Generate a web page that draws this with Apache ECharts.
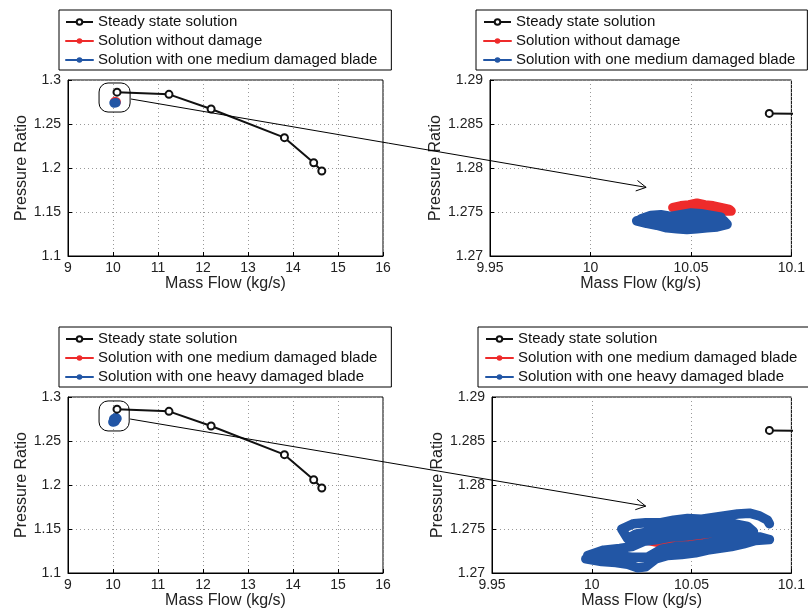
<!DOCTYPE html>
<html>
<head>
<meta charset="utf-8">
<script src="https://cdn.jsdelivr.net/npm/echarts@6/dist/echarts.min.js"></script>
<style>
    html, body { margin: 0; padding: 0; background: #fff; }
    #main { width: 808px; height: 614px; }
</style>
</head>
<body>
<div id="main"></div>
<script>
// 稳态解 (左图全线, 右图只剩第一个点)
let steadyX = [10.089, 11.244, 12.18, 13.81, 14.46, 14.64];
let steadyY = [1.2862, 1.2837, 1.2670, 1.2345, 1.2060, 1.1966];

// 无损伤 (红)
let noDamage = [
    [10.041, 1.2755], [10.045, 1.2757], [10.049, 1.2758], [10.053, 1.2760], [10.057, 1.2758],
    [10.061, 1.2757], [10.065, 1.2755], [10.069, 1.2753], [10.070, 1.2751], [10.066, 1.2751],
    [10.060, 1.2752], [10.054, 1.2753], [10.048, 1.2753], [10.043, 1.2752]
];

// 一片叶片中度损伤
let mediumDamage = [
    [10.023, 1.2740], [10.028, 1.2737], [10.033, 1.2735], [10.038, 1.2732], [10.043, 1.2731],
    [10.048, 1.2730], [10.053, 1.2731], [10.058, 1.2732], [10.063, 1.2733], [10.068, 1.2736],
    [10.066, 1.2741], [10.060, 1.2740], [10.054, 1.2739], [10.048, 1.2738], [10.042, 1.2738],
    [10.036, 1.2739], [10.030, 1.2741], [10.025, 1.2742], [10.030, 1.2746], [10.035, 1.2747],
    [10.040, 1.2745], [10.045, 1.2747], [10.050, 1.2749], [10.055, 1.2748], [10.060, 1.2746],
    [10.065, 1.2744]
];

// 一片叶片重度损伤
let heavyDamage = [
    [9.997, 1.2716], [10.005, 1.2713], [10.012, 1.2712], [10.018, 1.2710], [10.023, 1.2706],
    [10.027, 1.2707], [10.032, 1.2716], [10.038, 1.2720], [10.045, 1.2721], [10.052, 1.2723],
    [10.058, 1.2726], [10.064, 1.2728], [10.070, 1.2730], [10.076, 1.2733], [10.082, 1.2737],
    [10.089, 1.2738], [10.084, 1.2741], [10.077, 1.2742], [10.070, 1.2739], [10.063, 1.2736],
    [10.056, 1.2733], [10.049, 1.2731], [10.042, 1.2730], [10.035, 1.2727], [10.028, 1.2718],
    [10.020, 1.2718], [10.012, 1.2720], [10.004, 1.2722], [9.998, 1.2720], [10.006, 1.2726],
    [10.014, 1.2728], [10.020, 1.2730], [10.026, 1.2736], [10.033, 1.2738], [10.040, 1.2741],
    [10.047, 1.2742], [10.054, 1.2744], [10.061, 1.2746], [10.068, 1.2748], [10.075, 1.2749],
    [10.081, 1.2747], [10.078, 1.2753], [10.071, 1.2756], [10.064, 1.2755], [10.057, 1.2753],
    [10.050, 1.2752], [10.043, 1.2751], [10.036, 1.2749], [10.029, 1.2747], [10.022, 1.2744],
    [10.018, 1.2739], [10.015, 1.2750], [10.021, 1.2756], [10.027, 1.2757], [10.034, 1.2757],
    [10.041, 1.2760], [10.048, 1.2762], [10.055, 1.2761], [10.061, 1.2763], [10.067, 1.2765],
    [10.073, 1.2767], [10.079, 1.2768], [10.084, 1.2765], [10.088, 1.2760], [10.089, 1.2756]
];

// 坐标轴范围 [min, max, interval]
let leftX = [9, 16, 1];
let leftY = [1.1, 1.3, 0.05];
let rightX = [9.95, 10.1, 0.05];
let rightY = [1.27, 1.29, 0.005];

let topNames = ['Steady state solution', 'Solution without damage', 'Solution with one medium damaged blade'];
let bottomNames = ['Steady state solution', 'Solution with one medium damaged blade', 'Solution with one heavy damaged blade'];

let black = '#111', red = '#ee2b2b', blue = '#2256a5';
let fontFamily = '"Liberation Sans", Arial, sans-serif';

// 放大框与箭头 (数据坐标)
let zoomNote = [
    {grid: 0, box: [[9.69, 1.2966], [10.38, 1.2636]], from: [10.40, 1.2784], toGrid: 1, to: [10.0277, 1.2778]},
    {grid: 2, box: [[9.69, 1.2955], [10.36, 1.2614]], from: [10.38, 1.2750], toGrid: 3, to: [10.027, 1.2776]}
];

let chart = echarts.init(document.getElementById('main'));

let grids = [
    {left: 68, top: 80, width: 315, height: 176},
    {left: 490, top: 80, width: 307, height: 176},
    {left: 68, top: 397, width: 315, height: 176},
    {left: 492, top: 397, width: 306, height: 176}
].map(g => Object.assign(g, {show: true, borderColor: '#000', borderWidth: 1, backgroundColor: '#fff'}));

let xAxisOf = (i, r) => ({
    gridIndex: i, type: 'value', min: r[0], max: r[1], interval: r[2],
    name: 'Mass Flow (kg/s)', nameLocation: 'middle', nameGap: 20,
    nameTextStyle: {fontSize: 16, color: '#222', fontFamily},
    axisLine: {show: true, onZero: false, lineStyle: {color: '#000'}},
    axisTick: {show: true, inside: true, length: 4, lineStyle: {color: '#000'}},
    axisLabel: {fontSize: 14, color: '#222', margin: 5, fontFamily},
    splitLine: {show: true, lineStyle: {color: '#999', type: [1, 3]}}
});

let yAxisOf = (i, r, gap) => ({
    gridIndex: i, type: 'value', min: r[0], max: r[1], interval: r[2],
    name: 'Pressure Ratio', nameLocation: 'middle', nameGap: gap,
    nameTextStyle: {fontSize: 16, color: '#222', fontFamily},
    axisLine: {show: true, onZero: false, lineStyle: {color: '#000'}},
    axisTick: {show: true, inside: true, length: 4, lineStyle: {color: '#000'}},
    axisLabel: {fontSize: 14, color: '#222', margin: 7, fontFamily},
    splitLine: {show: true, lineStyle: {color: '#999', type: [1, 3]}}
});

let steadySeries = i => ({
    type: 'line', name: topNames[0], xAxisIndex: i, yAxisIndex: i,
    data: steadyX.map((x, k) => [x, steadyY[k]]),
    symbol: 'emptyCircle', symbolSize: 7, clip: true,
    lineStyle: {color: black, width: 2},
    itemStyle: {color: black, borderColor: black, borderWidth: 1.6},
    z: 3
});

let cloudSeries = (i, name, data, color) => ({
    type: 'line', name, xAxisIndex: i, yAxisIndex: i, data,
    symbol: 'none', clip: true,
    lineStyle: {color, width: 9.5, cap: 'round', join: 'round'},
    itemStyle: {color},
    z: 2
});

let legendOf = (names, colors, left, top, padLeft, padRight) => ({
    orient: 'vertical', left, top, padding: [4, padRight, 2, padLeft],
    itemWidth: 27, itemHeight: 7, itemGap: 3, selectedMode: false,
    borderColor: '#000', borderWidth: 1, backgroundColor: '#fff',
    textStyle: {fontSize: 15, color: '#111', fontFamily, lineHeight: 16},
    data: names.map((n, k) => ({name: n, itemStyle: {color: colors[k]}, lineStyle: {color: colors[k], width: 2}}))
});

let option = {
    animation: false,
    grid: grids,
    xAxis: [xAxisOf(0, leftX), xAxisOf(1, rightX), xAxisOf(2, leftX), xAxisOf(3, rightX)],
    yAxis: [yAxisOf(0, leftY, 38), yAxisOf(1, rightY, 46), yAxisOf(2, leftY, 38), yAxisOf(3, rightY, 46)],
    legend: [
        legendOf(topNames, [black, red, blue], 59, 10, 6, 14),
        legendOf(topNames, [black, red, blue], 476, 10, 7, 12),
        legendOf(bottomNames, [black, red, blue], 59, 327, 6, 14),
        legendOf(bottomNames, [black, red, blue], 478, 327, 7, 12)
    ],
    series: [
        cloudSeries(0, topNames[1], noDamage, red),
        cloudSeries(0, topNames[2], mediumDamage, blue),
        steadySeries(0),
        cloudSeries(1, topNames[1], noDamage, red),
        cloudSeries(1, topNames[2], mediumDamage, blue),
        steadySeries(1),
        cloudSeries(2, bottomNames[1], mediumDamage, red),
        cloudSeries(2, bottomNames[2], heavyDamage, blue),
        steadySeries(2),
        cloudSeries(3, bottomNames[1], mediumDamage, red),
        cloudSeries(3, bottomNames[2], heavyDamage, blue),
        steadySeries(3)
    ]
};

chart.setOption(option);

// 画放大框和箭头
let graphics = [];
zoomNote.forEach(n => {
    let p1 = chart.convertToPixel({gridIndex: n.grid}, n.box[0]);
    let p2 = chart.convertToPixel({gridIndex: n.grid}, n.box[1]);
    graphics.push({
        type: 'rect', z: 100,
        shape: {x: p1[0], y: p1[1], width: p2[0] - p1[0], height: p2[1] - p1[1], r: 9},
        style: {fill: 'none', stroke: '#000', lineWidth: 1}
    });
    let a = chart.convertToPixel({gridIndex: n.grid}, n.from);
    let b = chart.convertToPixel({gridIndex: n.toGrid}, n.to);
    graphics.push({
        type: 'line', z: 100,
        shape: {x1: a[0], y1: a[1], x2: b[0], y2: b[1]},
        style: {stroke: '#000', lineWidth: 1}
    });
    let ang = Math.atan2(b[1] - a[1], b[0] - a[0]);
    let len = 11, spread = 0.5;
    graphics.push({
        type: 'polyline', z: 100,
        shape: {points: [
            [b[0] - len * Math.cos(ang - spread), b[1] - len * Math.sin(ang - spread)],
            b,
            [b[0] - len * Math.cos(ang + spread), b[1] - len * Math.sin(ang + spread)]
        ]},
        style: {fill: 'none', stroke: '#000', lineWidth: 1}
    });
});
chart.setOption({graphic: graphics});
</script>
</body>
</html>
